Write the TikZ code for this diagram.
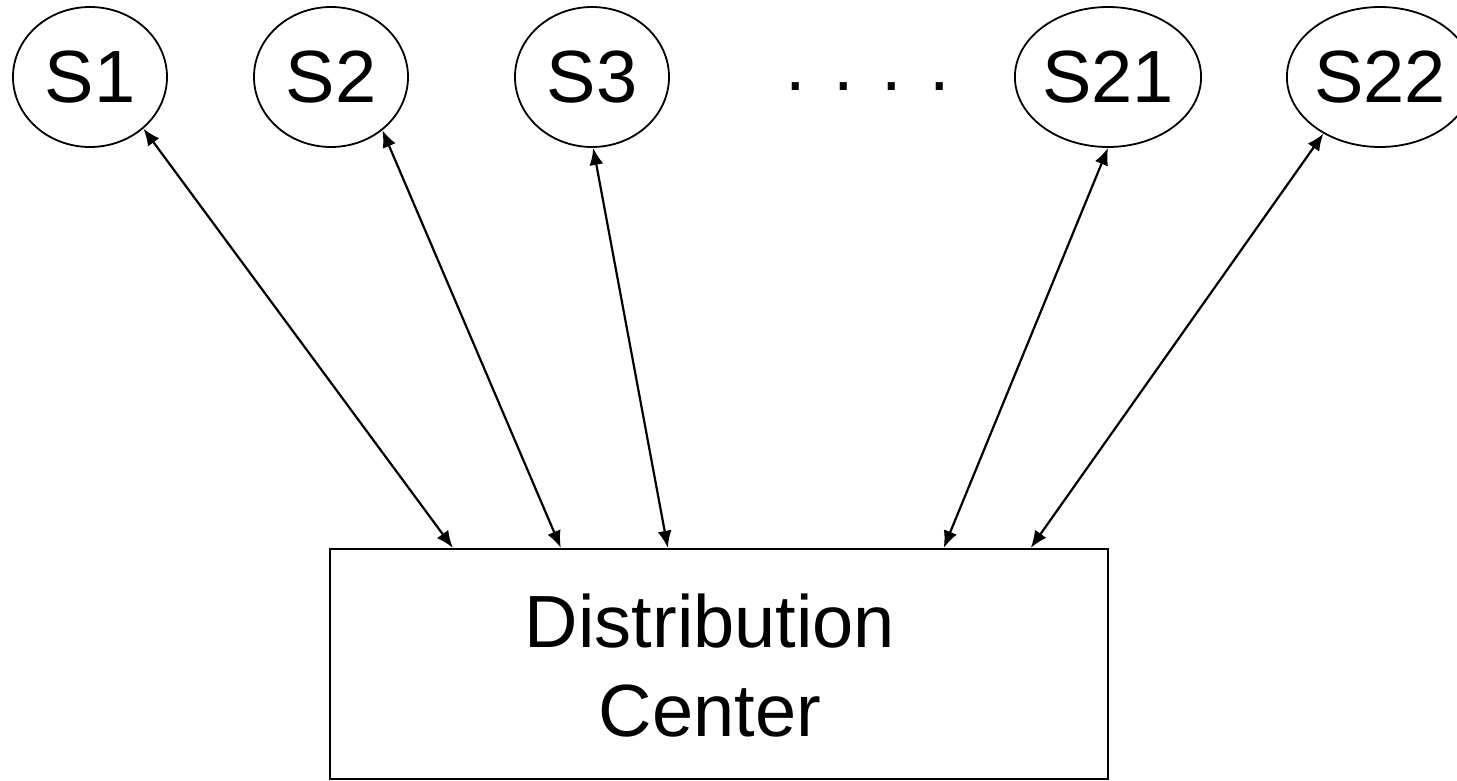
\documentclass[tikz,border=0pt]{standalone}
\usepackage{fontspec}
\setmainfont{Liberation Sans}
\usetikzlibrary{arrows.meta,shapes.geometric,calc}

\tikzset{
  store/.style={draw, ellipse, line width=1.8pt, inner sep=0pt,
    minimum width=154pt, minimum height=140pt,
    font=\fontsize{74}{89}\selectfont},
  centerbox/.style={draw, rectangle, line width=2.4pt, inner sep=0pt,
    minimum width=778pt, minimum height=230pt},
  bigtext/.style={font=\fontsize{74}{89}\selectfont, inner sep=0pt},
  link/.style={line width=2.2pt,
    {Latex[length=17pt,width=14pt]}-{Latex[length=17pt,width=14pt]}},
}

\begin{document}
\begin{tikzpicture}[x=1pt, y=-1pt]
  \useasboundingbox (0,0) rectangle (1457,781);

  % stores
  \node[store] (s1)  at (90,77)   {S1};
  \node[store] (s2)  at (331,77)  {S2};
  \node[store] (s3)  at (592,77)  {S3};
  \node[store] (s21) at (1108,77) {S21};
  \node[store] (s22) at (1380,77) {S22};

  % ellipsis between the stores
  \node[bigtext, anchor=base west] (gap) at (785,91) {. . . .};

  % distribution center
  \node[centerbox] (dc) at (719,664) {};
  \node[bigtext, align=center] (dclabel) at (710,666) {Distribution\\Center};

  % attachment points on the top edge of the center
  \coordinate (d1)  at ($(dc.north west)+(124,0)$);
  \coordinate (d2)  at ($(dc.north west)+(232,0)$);
  \coordinate (d3)  at ($(dc.north west)+(339,0)$);
  \coordinate (d21) at ($(dc.north west)+(615,0)$);
  \coordinate (d22) at ($(dc.north west)+(702,0)$);

  % two-way links
  \draw[link] (s1.-44)  -- (d1);
  \draw[link] (s2.-46)  -- (d2);
  \draw[link] (s3.-89)  -- (d3);
  \draw[link] (s21.-90) -- (d21);
  \draw[link] (s22.-135) -- (d22);
\end{tikzpicture}
\end{document}
